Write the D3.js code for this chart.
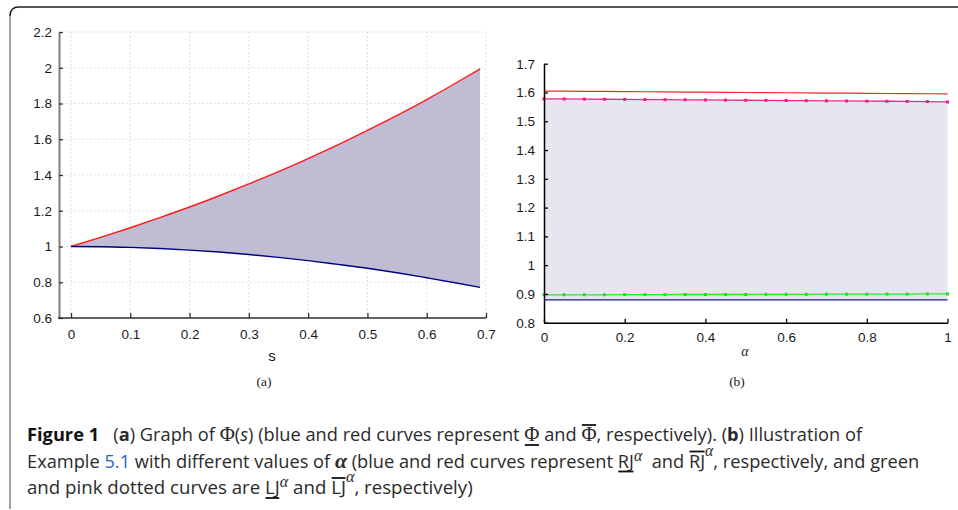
<!DOCTYPE html>
<html><head><meta charset="utf-8">
<script src="https://cdn.jsdelivr.net/npm/d3@7"></script>
<style>body{margin:0;background:#fff}svg{display:block}</style>
</head><body>
<svg id="c" width="958" height="510"></svg>
<script>
// ---------- Data ----------
// Panel (a)
const sValues = [0,0.05,0.1,0.15,0.2,0.25,0.3,0.35,0.4,0.45,0.5,0.55,0.6,0.65,0.69];
const phiUpper = [1,1.051,1.105,1.162,1.221,1.284,1.350,1.419,1.492,1.568,1.649,1.733,1.822,1.916,1.994];
const phiLower = [1,0.999,0.995,0.989,0.980,0.969,0.955,0.939,0.921,0.900,0.878,0.853,0.825,0.796,0.771];
const xTicksA = [0,0.1,0.2,0.3,0.4,0.5,0.6,0.7];
const xTickLabelsA = ["0","0.1","0.2","0.3","0.4","0.5","0.6","0.7"];
const yTicksA = [0.6,0.8,1.0,1.2,1.4,1.6,1.8,2.0,2.2];
const yTickLabelsA = ["0.6","0.8","1","1.2","1.4","1.6","1.8","2","2.2"];
// Panel (b)
const alphaValues = [0,0.05,0.1,0.15,0.2,0.25,0.3,0.35,0.4,0.45,0.5,0.55,0.6,0.65,0.7,0.75,0.8,0.85,0.9,0.95,1];
const rjUpper = [1.605,1.6045,1.604,1.6035,1.603,1.6025,1.602,1.6015,1.601,1.6005,1.600,1.5995,1.599,1.5985,1.598,1.5975,1.597,1.5965,1.596,1.5955,1.595];
const ljUpper = [1.578,1.5775,1.577,1.5765,1.576,1.5755,1.575,1.5745,1.574,1.5735,1.573,1.5725,1.572,1.5715,1.571,1.5705,1.570,1.5695,1.569,1.5685,1.567];
const ljLower = [0.897,0.897,0.897,0.897,0.8975,0.8975,0.8975,0.898,0.898,0.898,0.898,0.8985,0.8985,0.8985,0.899,0.899,0.899,0.8995,0.8995,0.900,0.900];
const rjLower = [0.879,0.879,0.879,0.879,0.879,0.879,0.879,0.879,0.879,0.879,0.879,0.879,0.879,0.879,0.879,0.879,0.879,0.879,0.879,0.879,0.879];
const xTicksB = [0,0.2,0.4,0.6,0.8,1];
const xTickLabelsB = ["0","0.2","0.4","0.6","0.8","1"];
const yTicksB = [0.8,0.9,1.0,1.1,1.2,1.3,1.4,1.5,1.6,1.7];
const yTickLabelsB = ["0.8","0.9","1","1.1","1.2","1.3","1.4","1.5","1.6","1.7"];

const svg = d3.select("#c");

// ---------- Frame ----------
svg.append("path").attr("d","M10,509 L10,16").attr("fill","none").attr("stroke","#8a8a8a").attr("stroke-width",1.6);
svg.append("path").attr("d","M10,16 Q10,7 19,7 L958,7").attr("fill","none").attr("stroke","#1e1e1e").attr("stroke-width",1.5);

const tickFont = "'Liberation Sans', Arial, sans-serif";
const serifFont = "'Liberation Serif', 'Times New Roman', serif";

// ---------- Panel (a) ----------
const xA = d3.scaleLinear().domain([0,0.7]).range([71,486]);
const yA = d3.scaleLinear().domain([0.6,2.2]).range([318,32]);
const gA = svg.append("g");

// grid
gA.append("g").selectAll("line").data(yTicksA).join("line")
  .attr("x1",66).attr("x2",xA(0.7)).attr("y1",d=>yA(d)).attr("y2",d=>yA(d))
  .attr("stroke","#d6d6d6").attr("stroke-width",1).attr("stroke-dasharray","1.5,2.5");
gA.append("g").selectAll("line").data(xTicksA).join("line")
  .attr("x1",d=>xA(d)).attr("x2",d=>xA(d)).attr("y1",yA(2.2)).attr("y2",yA(0.6))
  .attr("stroke","#d6d6d6").attr("stroke-width",1).attr("stroke-dasharray","1.5,2.5");

const ptsA = sValues.map((s,i)=>({s, lo:phiLower[i], hi:phiUpper[i]}));
gA.append("path").datum(ptsA)
  .attr("d", d3.area().x(d=>xA(d.s)).y0(d=>yA(d.lo)).y1(d=>yA(d.hi)).curve(d3.curveMonotoneX))
  .attr("fill","#bfbcd3");
gA.append("path").datum(ptsA)
  .attr("d", d3.line().x(d=>xA(d.s)).y(d=>yA(d.hi)).curve(d3.curveMonotoneX))
  .attr("fill","none").attr("stroke","#ff1a1a").attr("stroke-width",1.4);
gA.append("path").datum(ptsA)
  .attr("d", d3.line().x(d=>xA(d.s)).y(d=>yA(d.lo)).curve(d3.curveMonotoneX))
  .attr("fill","none").attr("stroke","#000080").attr("stroke-width",1.4);

// axes
const axYA = gA.append("g").attr("transform","translate(59,0)")
  .call(d3.axisLeft(yA).tickValues(yTicksA).tickFormat((d,i)=>yTickLabelsA[i]).tickSizeInner(-4).tickSizeOuter(0).tickPadding(7));
axYA.select(".domain").attr("stroke","#808080").attr("stroke-width",2);
axYA.selectAll(".tick line").attr("stroke","#333").attr("stroke-width",1.3);
axYA.selectAll("text").attr("font-family",tickFont).attr("font-size",13.5).attr("fill","#1a1a1a");

const axXA = gA.append("g").attr("transform","translate(0,318)")
  .call(d3.axisBottom(xA).tickValues(xTicksA).tickFormat((d,i)=>xTickLabelsA[i]).tickSizeInner(-5).tickSizeOuter(0).tickPadding(11));
axXA.select(".domain").attr("d","M58,0H"+xA(0.7)).attr("stroke","#333").attr("stroke-width",1.4);
axXA.selectAll(".tick line").attr("stroke","#333").attr("stroke-width",1.3);
axXA.selectAll("text").attr("font-family",tickFont).attr("font-size",13.5).attr("fill","#1a1a1a");

gA.append("text").attr("x",272).attr("y",361).attr("text-anchor","middle")
  .attr("font-family",tickFont).attr("font-size",15).attr("fill","#1a1a1a").text("s");
gA.append("text").attr("x",264).attr("y",386).attr("text-anchor","middle")
  .attr("font-family",serifFont).attr("font-size",13.5).attr("fill","#1a1a1a").text("(a)");

// ---------- Panel (b) ----------
const xB = d3.scaleLinear().domain([0,1]).range([544,947.5]);
const yB = d3.scaleLinear().domain([0.8,1.7]).range([322.7,63.7]);
const gB = svg.append("g");
const ptsB = alphaValues.map((a,i)=>({a, ru:rjUpper[i], lu:ljUpper[i], ll:ljLower[i], rl:rjLower[i]}));

gB.append("path").datum(ptsB)
  .attr("d", d3.area().x(d=>xB(d.a)).y0(d=>yB(d.rl)).y1(d=>yB(d.lu)))
  .attr("fill","#e6e5f0");
gB.append("path").datum(ptsB)
  .attr("d", d3.line().x(d=>xB(d.a)).y(d=>yB(d.ru)))
  .attr("fill","none").attr("stroke","#f52828").attr("stroke-width",1.2);
gB.append("path").datum(ptsB)
  .attr("d", d3.line().x(d=>xB(d.a)).y(d=>yB(d.rl)))
  .attr("fill","none").attr("stroke","#1c1c80").attr("stroke-width",1.3);
gB.append("path").datum(ptsB)
  .attr("d", d3.line().x(d=>xB(d.a)).y(d=>yB(d.lu)))
  .attr("fill","none").attr("stroke","#f0288c").attr("stroke-width",1.3);
gB.append("g").selectAll("rect").data(ptsB).join("rect")
  .attr("x",d=>xB(d.a)-1.5).attr("y",d=>yB(d.lu)-1.5).attr("width",3).attr("height",3).attr("fill","#ff1493");
gB.append("path").datum(ptsB)
  .attr("d", d3.line().x(d=>xB(d.a)).y(d=>yB(d.ll)))
  .attr("fill","none").attr("stroke","#2ee82e").attr("stroke-width",1.3);
gB.append("g").selectAll("rect").data(ptsB).join("rect")
  .attr("x",d=>xB(d.a)-1.5).attr("y",d=>yB(d.ll)-1.5).attr("width",3).attr("height",3).attr("fill","#22dd22");

const axYB = gB.append("g").attr("transform","translate(544,0)")
  .call(d3.axisLeft(yB).tickValues(yTicksB).tickFormat((d,i)=>yTickLabelsB[i]).tickSizeInner(-4).tickSizeOuter(0).tickPadding(9));
axYB.select(".domain").attr("stroke","#000").attr("stroke-width",1.5);
axYB.selectAll(".tick line").attr("stroke","#000").attr("stroke-width",1.3);
axYB.selectAll("text").attr("font-family",tickFont).attr("font-size",13.5).attr("fill","#1a1a1a");

const axXB = gB.append("g").attr("transform","translate(0,322.7)")
  .call(d3.axisBottom(xB).tickValues(xTicksB).tickFormat((d,i)=>xTickLabelsB[i]).tickSizeInner(-4).tickSizeOuter(0).tickPadding(10));
axXB.select(".domain").attr("stroke","#000").attr("stroke-width",1.5);
axXB.selectAll(".tick line").attr("stroke","#000").attr("stroke-width",1.3);
axXB.selectAll("text").attr("font-family",tickFont).attr("font-size",13.5).attr("fill","#1a1a1a");

gB.append("text").attr("x",745).attr("y",356).attr("text-anchor","middle")
  .attr("font-family",serifFont).attr("font-style","italic").attr("font-size",14).attr("fill","#1a1a1a").text("α");
gB.append("text").attr("x",737).attr("y",386).attr("text-anchor","middle")
  .attr("font-family",serifFont).attr("font-size",13.5).attr("fill","#1a1a1a").text("(b)");

// ---------- Caption ----------
const capSerif = "'Liberation Serif', 'DejaVu Serif', serif";
const capLines = [
  {y:441, w:836, spans:[
    {t:"Figure 1",b:1,fill:"#111"},{t:"   ("},{t:"a",b:1},{t:") Graph of "},{t:"Φ",f:capSerif,fs:21},{t:"("},{t:"s",i:1},
    {t:") (blue and red curves represent "},{t:"Φ",f:capSerif,fs:21,dec:"u"},{t:" and "},{t:"Φ",f:capSerif,fs:21,dec:"o"},
    {t:", respectively). ("},{t:"b",b:1},{t:") Illustration of"}]},
  {y:467.5, w:893, spans:[
    {t:"Example "},{t:"5.1",fill:"#2f5fbf"},{t:" with different values of "},{t:"α",f:capSerif,b:1,i:1,fs:22},
    {t:" (blue and red curves represent "},{t:"RJ",dec:"u"},{t:"α",f:capSerif,i:1,sup:7,fs:16},{t:"  and "},
    {t:"RJ",dec:"o"},{t:"α",f:capSerif,i:1,sup:12,fs:16},{t:", respectively, and green"}]},
  {y:494, w:446, spans:[
    {t:"and pink dotted curves are "},{t:"LJ",dec:"u"},{t:"α",f:capSerif,i:1,sup:7,fs:16},{t:" and "},
    {t:"LJ",dec:"o"},{t:"α",f:capSerif,i:1,sup:12,fs:16},{t:", respectively)"}]}
];
capLines.forEach(line=>{
  const g = svg.append("g");
  const txt = g.append("text").attr("x",0).attr("y",0).style("white-space","pre")
    .attr("font-family","'Open Sans', 'Noto Sans', sans-serif").attr("font-size",18.5).attr("fill","#2a2a2a");
  let shift = 0;
  const decs = [];
  line.spans.forEach(s=>{
    const ts = txt.append("tspan").text(s.t);
    const target = s.sup ? -s.sup : 0;
    if (target !== shift) { ts.attr("dy", target - shift); shift = target; }
    if (s.b) ts.attr("font-weight","bold");
    if (s.i) ts.attr("font-style","italic");
    if (s.f) ts.attr("font-family", s.f);
    if (s.fill) ts.attr("fill", s.fill);
    if (s.fs) ts.attr("font-size", s.fs);
    if (s.dec) decs.push({node:ts.node(), dec:s.dec});
  });
  const natural = txt.node().getComputedTextLength();
  const sx = line.w / natural;
  g.attr("transform", `translate(27,${line.y}) scale(${sx},1)`);
  decs.forEach(d=>{
    const x0 = d.node.getStartPositionOfChar(0).x;
    const x1 = x0 + d.node.getComputedTextLength();
    const yy = d.dec === "u" ? 4 : -16;
    g.append("line").attr("x1",x0+0.5).attr("x2",x1-0.5).attr("y1",yy).attr("y2",yy)
      .attr("stroke","#111").attr("stroke-width",1.8);
  });
});
</script>
</body></html>
